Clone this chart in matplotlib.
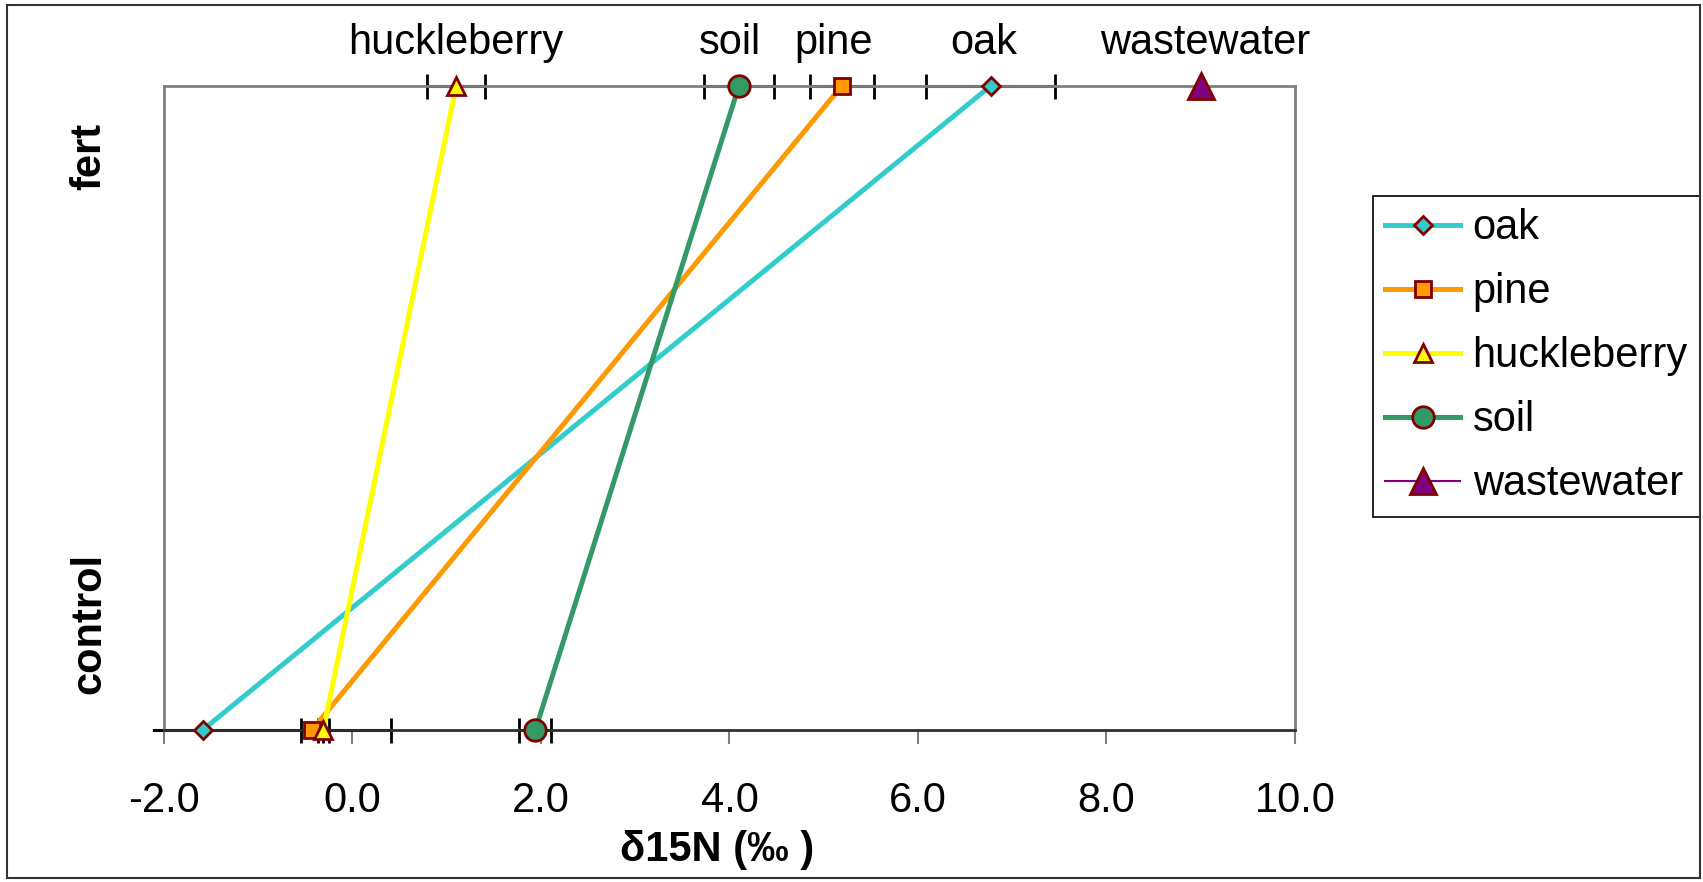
import matplotlib
matplotlib.use('Agg')
import matplotlib.pyplot as plt
from matplotlib.patches import Rectangle
from matplotlib.transforms import Bbox, TransformedBbox

plt.rcParams['font.family'] = ['Liberation Sans', 'DejaVu Sans']
plt.rcParams['axes.unicode_minus'] = False

# data: [control, fert]
levels = ['control', 'fert']
series = ['oak', 'pine', 'huckleberry', 'soil']
oak = [-1.59, 6.77]
oak_err = [2.0, 0.68]
pine = [-0.43, 5.19]
pine_err = [0.12, 0.34]
huck = [-0.31, 1.10]
huck_err = [0.06, 0.31]
soil = [1.94, 4.10]
soil_err = [0.17, 0.37]
wastewater = [9.0]   # fert only

label_names = ['oak', 'pine', 'huckleberry', 'soil', 'wastewater']
label_x = [6.7, 5.1, 1.1, 4.0, 9.05]

xticks = [-2, 0, 2, 4, 6, 8, 10]

fig = plt.figure(figsize=(17.03, 8.82), dpi=100)
ax = fig.add_axes([0.0963, 0.1723, 0.6641, 0.7302])

ypos = [0, 1]
edge = '#800000'
clipbox = TransformedBbox(Bbox.from_extents(-2.12, -0.2, 10.5, 1.2), ax.transData)

styles = [
    (oak, oak_err, '#33CCCC', 'D', 9.5),
    (pine, pine_err, '#FF9900', 's', 11),
    (huck, huck_err, '#FFFF00', '^', 12.5),
    (soil, soil_err, '#339966', 'o', 15.5),
]

for name, (vals, errs, col, mk, ms) in zip(series, styles):
    eb = ax.errorbar(vals, ypos, xerr=errs, fmt='none', ecolor='black',
                     elinewidth=2.2, capsize=9, capthick=2, zorder=2.5)
    for art in eb.get_children():
        art.set_clip_box(clipbox)
    ax.plot(vals, ypos, color=col, lw=3.6, marker=mk, ms=ms, mfc=col,
            mec=edge, mew=2, clip_on=False, zorder=3, label=name)

ax.plot(wastewater, [1], color='#800080', lw=1.5, marker='^', ms=18.5,
        mfc='#800080', mec=edge, mew=2, clip_on=False, zorder=3,
        label='wastewater')

ax.set_xlim(-2, 10)
ax.set_ylim(0, 1)
ax.set_xticks(xticks)
ax.set_xticklabels([f'{v:.1f}' for v in xticks], fontsize=30)
ax.set_yticks([])
ax.tick_params(axis='x', direction='out', length=10, width=1.5,
               color='#808080', pad=27)

for s in ['left', 'top', 'right']:
    ax.spines[s].set_color('#808080')
    ax.spines[s].set_linewidth(2)
ax.spines['bottom'].set_color('#303030')
ax.spines['bottom'].set_linewidth(2)

ax.set_xlabel('δ15N (‰ )', fontsize=30, fontweight='bold', va='center')
ax.xaxis.set_label_coords(0.489, -0.186)

ax.text(-0.066, 0.89, levels[1], transform=ax.transAxes, rotation=90,
        fontsize=30, fontweight='bold', ha='center', va='center')
ax.text(-0.066, 0.165, levels[0], transform=ax.transAxes, rotation=90,
        fontsize=30, fontweight='bold', ha='center', va='center')

for nm, lx in zip(label_names, label_x):
    ax.text(lx, 1.067, nm, transform=ax.get_xaxis_transform(),
            fontsize=30, ha='center', va='center')

leg = ax.legend(loc='upper left', bbox_to_anchor=(0.806, 0.778),
                bbox_transform=fig.transFigure, fontsize=30, frameon=True,
                fancybox=False, framealpha=1, edgecolor='black',
                handlelength=1.8, handletextpad=0.3, borderpad=0.3,
                labelspacing=0.575, numpoints=1, borderaxespad=0)
leg.get_frame().set_linewidth(1.2)

fig.patches.append(Rectangle((0.0044, 0.004), 0.9936, 0.99, fill=False,
                             edgecolor='#333333', lw=1.5,
                             transform=fig.transFigure, figure=fig))

fig.savefig('out.png', dpi=100)
